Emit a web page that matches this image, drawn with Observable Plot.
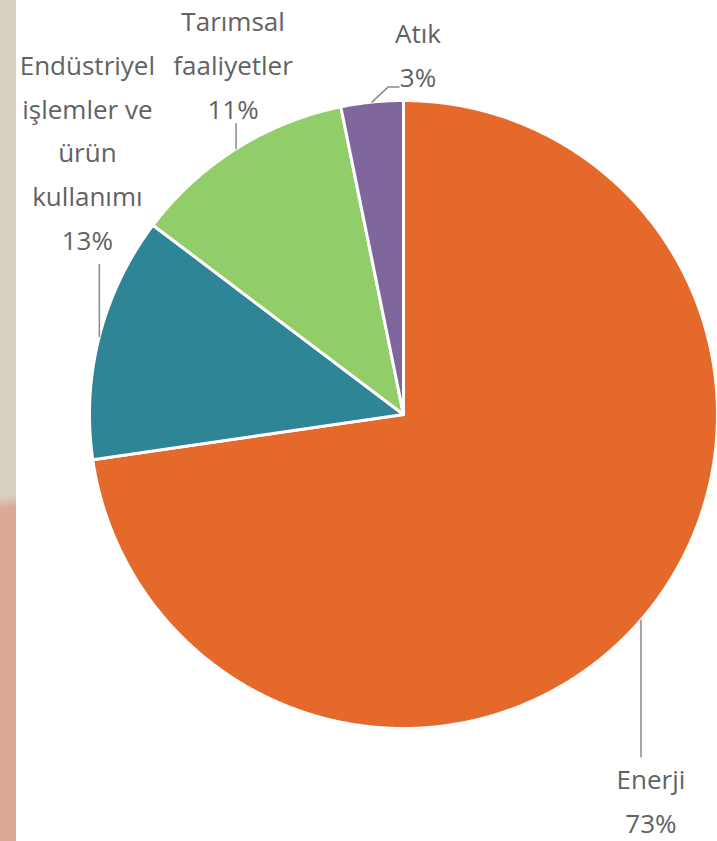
<!DOCTYPE html>
<html>
<head>
<meta charset="utf-8">
<script src="https://cdn.jsdelivr.net/npm/d3@7"></script>
<script src="https://cdn.jsdelivr.net/npm/@observablehq/plot@0.6"></script>
<style>
  body { margin: 0; background: #ffffff; }
  #wrap { position: relative; width: 717px; height: 841px; overflow: hidden; }
  #stripe { position: absolute; left: 0; top: 0; width: 16px; height: 841px;
    background: linear-gradient(174deg, #d8d0bf 0px, #d8d0bf 494px, #dca999 506px, #dca999 100%); }
  #chart { position: absolute; left: 0; top: 0; }
</style>
</head>
<body>
<div id="wrap"><div id="stripe"></div><div id="chart"></div></div>
<script>
// ---- data ----
const categories = ["Enerji", "Endüstriyel işlemler ve ürün kullanımı", "Tarımsal faaliyetler", "Atık"];
const labelText = ["Enerji", "Endüstriyel\nişlemler ve\nürün\nkullanımı", "Tarımsal\nfaaliyetler", "Atık"];
const shares = [72.7, 12.6, 11.5, 3.2];
const percentLabels = ["73%", "13%", "11%", "3%"];
const colors = ["#e5692b", "#2e8595", "#91cd68", "#7f669d"];

// ---- layout (pixels) ----
const W = 717, H = 841;
const CX = 403, CY = 414, R = 314;
// leader paths as pixel offsets from the slice mid-point on the rim
const leaderPaths = [
  [[0, 0], [0, 137]],
  [[0, 0], [0, -72]],
  [[0, 0], [0, -25]],
  [[0, 0], [16, -15], [27, -15]]
];
// label block centre offsets (pixels) from leader end
const labelOffsets = [[10, 40], [-12, -116], [-3, -63], [19, -36]];

// ---- build geometry from the data ----
const arcs = d3.pie().sort(null).value(d => d)(shares);
const pt = a => [Math.sin(a), Math.cos(a)];

const slices = [];
arcs.forEach((a, i) => {
  slices.push({cat: categories[i], x: 0, y: 0});
  const steps = Math.max(4, Math.ceil((a.endAngle - a.startAngle) / 0.005));
  for (let k = 0; k <= steps; k++) {
    const ang = a.startAngle + (a.endAngle - a.startAngle) * k / steps;
    const [x, y] = pt(ang);
    slices.push({cat: categories[i], x, y});
  }
});

const leaders = [];
const labels = [];
arcs.forEach((a, i) => {
  const mid = (a.startAngle + a.endAngle) / 2;
  const [sx, sy] = pt(mid);
  const path = leaderPaths[i];
  path.forEach(([dx, dy]) => leaders.push({cat: categories[i], x: sx + dx / R, y: sy - dy / R}));
  const [ex, ey] = path[path.length - 1];
  const [ox, oy] = labelOffsets[i];
  labels.push({
    text: labelText[i] + "\n" + percentLabels[i],
    x: sx + (ex + ox) / R,
    y: sy - (ey + oy) / R
  });
});

const chart = Plot.plot({
  width: W,
  height: H,
  margin: 0,
  style: {background: "transparent"},
  x: {domain: [-1, 1], range: [CX - R, CX + R], axis: null},
  y: {domain: [-1, 1], range: [CY + R, CY - R], axis: null},
  color: {domain: categories, range: colors},
  marks: [
    Plot.line(slices, {x: "x", y: "y", z: "cat", fill: "cat", stroke: "#ffffff", strokeWidth: 3, curve: "linear-closed", strokeLinejoin: "round"}),
    Plot.line(leaders, {x: "x", y: "y", z: "cat", stroke: "#8a8a8a", strokeWidth: 1.5}),
    Plot.text(labels, {x: "x", y: "y", text: "text", lineAnchor: "middle", lineHeight: 1.68, fontSize: 26, fill: "#626262", fontFamily: "Open Sans", textAnchor: "middle"})
  ]
});
document.getElementById("chart").appendChild(chart);
</script>
</body>
</html>
